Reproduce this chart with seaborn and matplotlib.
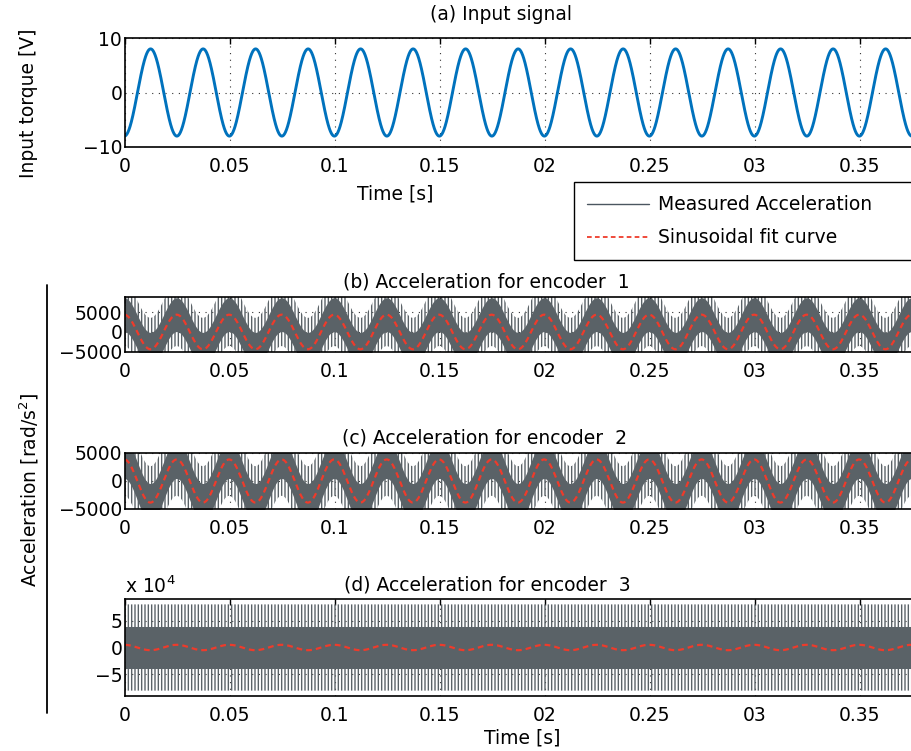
import numpy as np
import pandas as pd
import matplotlib
matplotlib.use("Agg")
import matplotlib.pyplot as plt
from matplotlib.lines import Line2D
import seaborn as sns

# ---- data -------------------------------------------------------------
time_span = [0.0, 0.4]
n_samples = 4001

# input torque command: -A*cos(2*pi*f*t + phi)
input_amp = 8.0
input_freq = 40.0
input_phase = 0.075

# sinusoidal fits of the measured acceleration (encoders 1..3)
fit_amp = [4400.0, 3850.0, 5000.0]
fit_freq = [40.0, 40.0, 40.0]
fit_phase = [0.10, 0.10, 0.10]

# spread of the measured acceleration: dense core and sparse spikes
core_halfwidth = [4300.0, 3400.0, 39000.0]
spike_halfwidth = [8000.0, 6500.0, 80000.0]
spread_follows_fit = [True, True, False]

panel_titles = ["(a) Input signal",
                "(b) Acceleration for encoder  1",
                "(c) Acceleration for encoder  2",
                "(d) Acceleration for encoder  3"]
ylims = [(-10, 10), (-5100, 8900), (-5000, 5000), (-90000, 90000)]
yticks = [[-10, 0, 10], [-5000, 0, 5000], [-5000, 0, 5000], [-50000, 0, 50000]]
ytick_labels = [["\u221210", "0", "10"],
                ["\u22125000", "0", "5000"],
                ["\u22125000", "0", "5000"],
                ["\u22125", "0", "5"]]
xtick_values = [0, 0.05, 0.1, 0.15, 0.2, 0.25, 0.3, 0.35]
xtick_labels = ["0", "0.05", "0.1", "0.15", "02", "0.25", "03", "0.35"]

# ---- styling ----------------------------------------------------------
sns.set_theme(style="white")
plt.rcParams["font.family"] = ["DejaVu Sans"]
plt.rcParams["mathtext.fontset"] = "dejavusans"
plt.rcParams["hatch.linewidth"] = 1.0
for key in ("text.color", "axes.labelcolor", "xtick.color", "ytick.color"):
    plt.rcParams[key] = "black"
FS = 13.5

blue = "#0072BD"
gray = "#5a6267"
red = "#EE3B2B"

W, H = 912, 751
fig = plt.figure(figsize=(W / 100, H / 100), dpi=100)


def px_axes(top, bottom, left=125, right=965):
    return fig.add_axes([left / W, 1 - bottom / H, (right - left) / W, (bottom - top) / H])


boxes = [(38, 147), (297, 352), (453, 509), (599, 696)]
axes = [px_axes(t, b) for t, b in boxes]

t = np.linspace(time_span[0], time_span[1], n_samples)

# (a) input signal
u = -input_amp * np.cos(2 * np.pi * input_freq * t + input_phase)
sns.lineplot(x=t, y=u, ax=axes[0], color=blue, lw=2.1, legend=False)

# (b)-(d) measured acceleration and fitted sinusoid
for k, ax in enumerate(axes[1:]):
    fit = fit_amp[k] * np.cos(2 * np.pi * fit_freq[k] * t + fit_phase[k])
    centre = fit if spread_follows_fit[k] else np.zeros_like(t)
    ax.fill_between(t, centre - spike_halfwidth[k], centre + spike_halfwidth[k],
                    facecolor="none", edgecolor=gray, hatch="|||||", lw=0, zorder=2)
    ax.fill_between(t, centre - core_halfwidth[k], centre + core_halfwidth[k],
                    color=gray, lw=0, zorder=3)
    sns.lineplot(x=t, y=fit, ax=ax, color=red, lw=1.6,
                 linestyle=(0, (2.6, 1.8)), legend=False, zorder=4)

title_pos = [(501, 15), (486, 282), (485, 438), (487, 585)]
for k, ax in enumerate(axes):
    ax.set_xlim(*time_span)
    ax.set_ylim(*ylims[k])
    ax.set_xticks(xtick_values)
    ax.set_xticklabels(xtick_labels)
    ax.set_yticks(yticks[k])
    ax.set_yticklabels(ytick_labels[k])
    ax.tick_params(direction="in", length=4, width=1, top=True, right=True,
                   labelsize=FS, pad=2, colors="black")
    ax.tick_params(axis="x", pad=7)
    ax.grid(True, color="#333333", linestyle=(0, (1, 5)), lw=0.8)
    ax.set_axisbelow(True)
    for s in ax.spines.values():
        s.set_color("black")
        s.set_linewidth(1.2)
        s.set_zorder(6)
    ax.set_xlabel("")
    ax.set_ylabel("")
    tx, ty = title_pos[k]
    fig.text(tx / W, 1 - ty / H, panel_titles[k], ha="center", va="center", fontsize=FS)

# axis labels
fig.text(395 / W, 1 - 194 / H, "Time [s]", ha="center", va="center", fontsize=FS)
fig.text(522 / W, 1 - 738 / H, "Time [s]", ha="center", va="center", fontsize=FS)
fig.text(29 / W, 1 - 103 / H, "Input torque [V]", ha="center", va="center",
         rotation=90, fontsize=FS)
fig.text(29 / W, 1 - 490 / H, r"Acceleration [rad/s$^{2}$]", ha="center", va="center",
         rotation=90, fontsize=FS)
fig.add_artist(Line2D([47 / W, 47 / W], [1 - 285 / H, 1 - 713 / H],
                      transform=fig.transFigure, color="black", lw=1.3))

# exponent for encoder 3
fig.text(125 / W, 1 - 586 / H, r"x 10$^{4}$", ha="left", va="center", fontsize=FS)

# legend, stretched to a wide box on the right
handles = [Line2D([], [], color="#4b5660", lw=1.0),
           Line2D([], [], color=red, lw=1.3, linestyle=(0, (2.6, 1.8)))]
leg = fig.legend(handles, ["Measured Acceleration", "Sinusoidal fit curve"],
                 loc="upper left", mode="expand",
                 bbox_to_anchor=(574 / W, 1 - 256 / H, 350 / W, 74 / H),
                 fontsize=FS, frameon=True, fancybox=False, framealpha=1,
                 edgecolor="black", handlelength=3.3, handletextpad=0.5,
                 labelspacing=0.75, borderpad=0.7, borderaxespad=0)
leg.get_frame().set_linewidth(1.0)

fig.savefig("out.png", dpi=100)
